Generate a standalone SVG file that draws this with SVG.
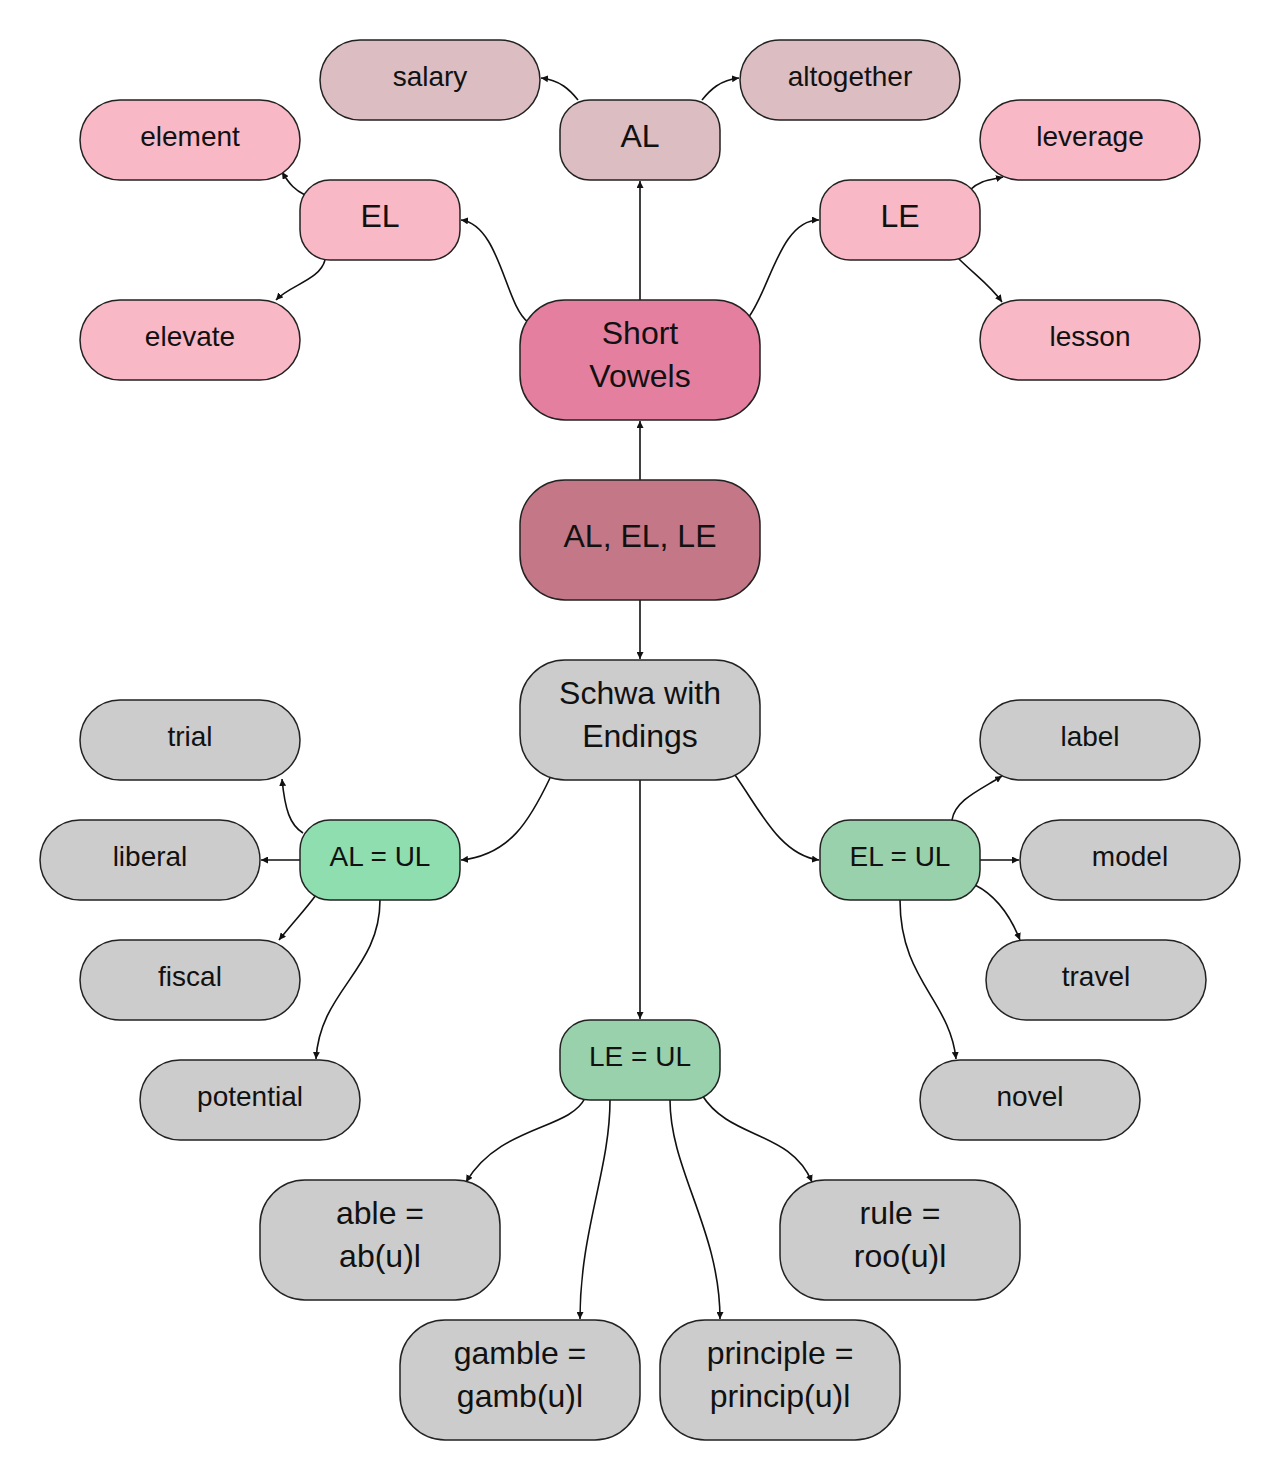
<svg xmlns="http://www.w3.org/2000/svg" width="1280" height="1480" viewBox="0 0 1280 1480">
<style>
.n rect{stroke:#222;stroke-width:1.5}
.n text{font-family:"Liberation Sans",Arial,sans-serif;fill:#111;text-anchor:middle;dominant-baseline:central}
.s text{font-size:28px}
.b text{font-size:32px}
.pk{fill:#f8b8c5}.mv{fill:#dbbdc2}.gr{fill:#cccccc}.gn{fill:#98d1ac}.gn2{fill:#8fdeb0}
#edges path{fill:none;stroke:#111;stroke-width:1.6;marker-end:url(#a)}
</style>
<defs><marker id="a" viewBox="0 0 10 10" refX="10" refY="5" markerWidth="7" markerHeight="7" orient="auto" markerUnits="userSpaceOnUse" ><path d="M0,0 L10,5 L0,10 z" fill="#111"/></marker></defs>
<rect width="1280" height="1480" fill="#fff"/>
<g id="edges">
<path d="M640,300 L640,181"/>
<path d="M640,480 L640,421"/>
<path d="M640,600 L640,659"/>
<path d="M640,780 L640,1019"/>
<path d="M528,322 C505,305 500,225 461,220"/>
<path d="M748,318 C770,290 780,220 819,220"/>
<path d="M578,100 C570,90 560,80 541,78"/>
<path d="M702,100 C710,90 720,80 739,78"/>
<path d="M305,195 C295,190 290,185 282,172"/>
<path d="M325,260 C320,280 290,285 276,300"/>
<path d="M970,190 C980,180 990,180 1003,177"/>
<path d="M958,258 C975,275 990,285 1002,302"/>
<path d="M550,778 C530,820 510,855 461,860"/>
<path d="M735,775 C760,810 780,855 819,860"/>
<path d="M303,833 C290,825 285,810 282,779"/>
<path d="M300,860 L261,860"/>
<path d="M316,895 C305,910 295,920 279,940"/>
<path d="M380,900 C380,970 320,990 316,1059"/>
<path d="M952,820 C955,800 980,790 1002,776"/>
<path d="M980,860 L1019,860"/>
<path d="M975,885 C995,895 1010,915 1020,940"/>
<path d="M900,900 C900,980 950,1000 956,1059"/>
<path d="M585,1098 C570,1130 500,1125 466,1182"/>
<path d="M610,1100 C610,1170 580,1230 580,1319"/>
<path d="M670,1100 C670,1170 720,1230 720,1319"/>
<path d="M702,1095 C730,1140 790,1130 812,1182"/>
</g>
<g id="salary" class="n s"><rect class="mv" x="320" y="40" width="220" height="80" rx="40"/><text x="430" y="76">salary</text></g>
<g id="altogether" class="n s"><rect class="mv" x="740" y="40" width="220" height="80" rx="40"/><text x="850" y="76">altogether</text></g>
<g id="AL" class="n b"><rect class="mv" x="560" y="100" width="160" height="80" rx="30"/><text x="640" y="136">AL</text></g>
<g id="element" class="n s"><rect class="pk" x="80" y="100" width="220" height="80" rx="40"/><text x="190" y="136">element</text></g>
<g id="EL" class="n b"><rect class="pk" x="300" y="180" width="160" height="80" rx="30"/><text x="380" y="216">EL</text></g>
<g id="LE" class="n b"><rect class="pk" x="820" y="180" width="160" height="80" rx="30"/><text x="900" y="216">LE</text></g>
<g id="leverage" class="n s"><rect class="pk" x="980" y="100" width="220" height="80" rx="40"/><text x="1090" y="136">leverage</text></g>
<g id="elevate" class="n s"><rect class="pk" x="80" y="300" width="220" height="80" rx="40"/><text x="190" y="336">elevate</text></g>
<g id="lesson" class="n s"><rect class="pk" x="980" y="300" width="220" height="80" rx="40"/><text x="1090" y="336">lesson</text></g>
<g id="short" class="n b"><rect fill="#e57fa0" x="520" y="300" width="240" height="120" rx="45"/><text x="640" y="333">Short</text><text x="640" y="376">Vowels</text></g>
<g id="alelle" class="n b"><rect fill="#c47887" x="520" y="480" width="240" height="120" rx="45"/><text x="640" y="536">AL, EL, LE</text></g>
<g id="schwa" class="n b"><rect class="gr" x="520" y="660" width="240" height="120" rx="45"/><text x="640" y="693">Schwa with</text><text x="640" y="736">Endings</text></g>
<g id="trial" class="n s"><rect class="gr" x="80" y="700" width="220" height="80" rx="40"/><text x="190" y="736">trial</text></g>
<g id="liberal" class="n s"><rect class="gr" x="40" y="820" width="220" height="80" rx="40"/><text x="150" y="856">liberal</text></g>
<g id="fiscal" class="n s"><rect class="gr" x="80" y="940" width="220" height="80" rx="40"/><text x="190" y="976">fiscal</text></g>
<g id="potential" class="n s"><rect class="gr" x="140" y="1060" width="220" height="80" rx="40"/><text x="250" y="1096">potential</text></g>
<g id="alul" class="n s"><rect class="gn2" x="300" y="820" width="160" height="80" rx="30"/><text x="380" y="856" font-size="30">AL = UL</text></g>
<g id="elul" class="n s"><rect class="gn" x="820" y="820" width="160" height="80" rx="30"/><text x="900" y="856">EL = UL</text></g>
<g id="label" class="n s"><rect class="gr" x="980" y="700" width="220" height="80" rx="40"/><text x="1090" y="736">label</text></g>
<g id="model" class="n s"><rect class="gr" x="1020" y="820" width="220" height="80" rx="40"/><text x="1130" y="856">model</text></g>
<g id="travel" class="n s"><rect class="gr" x="986" y="940" width="220" height="80" rx="40"/><text x="1096" y="976">travel</text></g>
<g id="novel" class="n s"><rect class="gr" x="920" y="1060" width="220" height="80" rx="40"/><text x="1030" y="1096">novel</text></g>
<g id="leul" class="n s"><rect class="gn" x="560" y="1020" width="160" height="80" rx="30"/><text x="640" y="1056">LE = UL</text></g>
<g id="able" class="n b"><rect class="gr" x="260" y="1180" width="240" height="120" rx="45"/><text x="380" y="1213">able =</text><text x="380" y="1256">ab(u)l</text></g>
<g id="rule" class="n b"><rect class="gr" x="780" y="1180" width="240" height="120" rx="45"/><text x="900" y="1213">rule =</text><text x="900" y="1256">roo(u)l</text></g>
<g id="gamble" class="n b"><rect class="gr" x="400" y="1320" width="240" height="120" rx="45"/><text x="520" y="1353">gamble =</text><text x="520" y="1396">gamb(u)l</text></g>
<g id="principle" class="n b"><rect class="gr" x="660" y="1320" width="240" height="120" rx="45"/><text x="780" y="1353">principle =</text><text x="780" y="1396">princip(u)l</text></g>
</svg>
